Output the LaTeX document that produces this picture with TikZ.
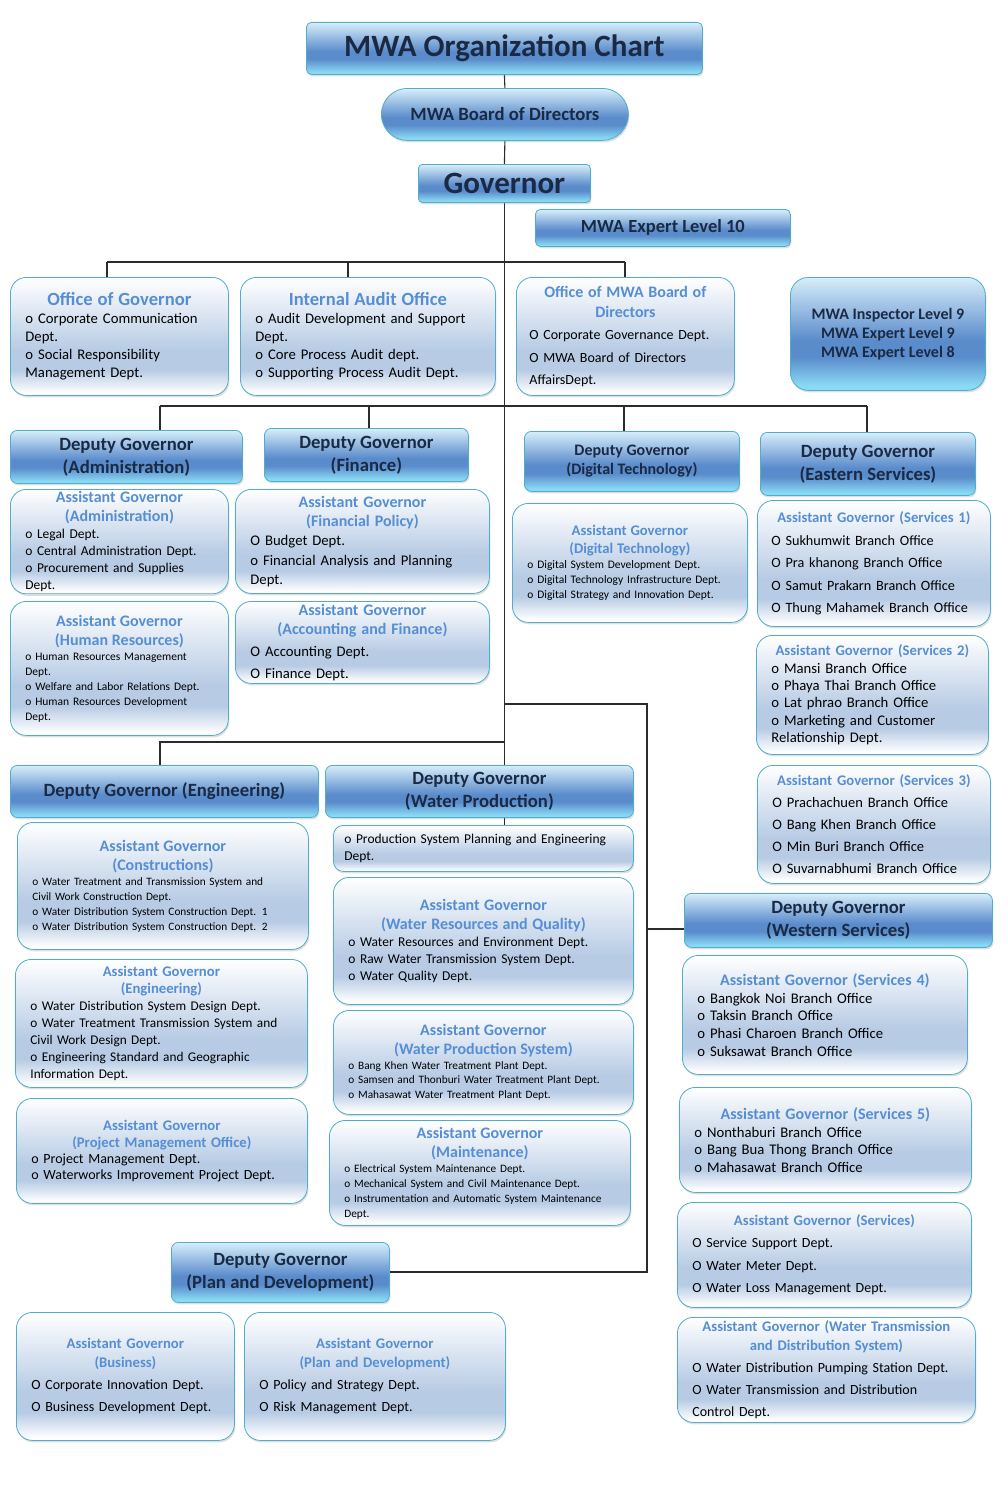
\documentclass[tikz,border=0pt]{standalone}
\usepackage{fontspec}
\setmainfont{Carlito}
\usetikzlibrary{positioning,shadows,backgrounds}
\setlength{\parindent}{0pt}
\hyphenpenalty=10000
\exhyphenpenalty=10000
\definecolor{HdrTop}{HTML}{D7EEFA}
\definecolor{HdrMid}{HTML}{5A8BCB}
\definecolor{HdrBot}{HTML}{8ADAF4}
\definecolor{HdrText}{HTML}{1B2A44}
\definecolor{BoxEdge}{HTML}{4EAECB}
\definecolor{AgMid}{HTML}{B7CBE4}
\definecolor{AgHead}{HTML}{558ED5}
\definecolor{Wire}{HTML}{2B2B2B}
\pgfdeclareverticalshading{hdrshade}{100bp}{color(0bp)=(HdrBot); color(27bp)=(HdrBot); color(40bp)=(HdrMid); color(47bp)=(HdrMid); color(75bp)=(HdrTop); color(100bp)=(HdrTop)}
\pgfdeclareverticalshading{agshade}{100bp}{color(0bp)=(white); color(26bp)=(white); color(36bp)=(AgMid); color(44bp)=(AgMid); color(75bp)=(white); color(100bp)=(white)}
\newcommand{\fsz}[2]{\fontsize{#1}{#2}\selectfont}
\newcommand{\aghd}[3]{{\centering\fsz{#1}{#2}\bfseries\color{AgHead}#3\par}}
\tikzset{
  hdrbox/.style={draw=BoxEdge, line width=0.8pt, shading=hdrshade, rounded corners=7pt, align=center, text=HdrText, inner sep=2pt, anchor=north west, drop shadow={shadow xshift=1pt, shadow yshift=-2pt, opacity=0.25}},
  agbox/.style={draw=BoxEdge, line width=0.8pt, shading=agshade, rounded corners=16pt, align=left, inner xsep=15pt, inner ysep=2pt, anchor=north west, drop shadow={shadow xshift=1pt, shadow yshift=-2pt, opacity=0.25}},
  link/.style={draw=Wire, line width=1.1pt}
}
\begin{document}
\begin{tikzpicture}[x=1pt, y=-1pt]
  \useasboundingbox (0,0) rectangle (1008,1512);

  % top of the chart
  \node[hdrbox, rounded corners=5pt, minimum width=396pt, minimum height=52pt, font=\fsz{31}{36}\bfseries] (title) at (306,22) {MWA Organization Chart};
  \node[hdrbox, rounded corners=26pt, minimum width=247pt, minimum height=52pt, font=\fsz{18.7}{22}\bfseries] (board) at (381,88) {MWA Board of Directors};
  \node[hdrbox, rounded corners=4pt, minimum width=172pt, minimum height=38pt, font=\fsz{31}{36}\bfseries] (gov) at (418,164) {Governor};
  \node[hdrbox, rounded corners=5pt, minimum width=255pt, minimum height=37pt, font=\fsz{18.5}{22}\bfseries] (exp10) at (535,209) {MWA Expert Level 10};

  % offices under the governor
  \node[agbox, minimum width=218pt, minimum height=118pt, text width=188pt, font=\fsz{14.7}{18}] (offgov) at (10,277) {\aghd{18.6}{20}{Office of Governor}
    o Corporate Communication\\Dept.\\o Social Responsibility\\Management Dept.};
  \node[agbox, minimum width=255pt, minimum height=118pt, text width=225pt, font=\fsz{14.7}{18}] (audit) at (240,277) {\aghd{18.6}{20}{Internal Audit Office}
    o Audit Development and Support\\Dept.\\o Core Process Audit dept.\\o Supporting Process Audit Dept.};
  \node[agbox, inner xsep=13pt, minimum width=218pt, minimum height=118pt, text width=192pt, font=\fsz{14}{22.5}] (offbod) at (516,277) {\aghd{16}{20}{Office of MWA Board of\\Directors}
    O Corporate Governance Dept.\\O MWA Board of Directors\\AffairsDept.};
  \node[hdrbox, rounded corners=18pt, minimum width=195pt, minimum height=113pt, font=\fsz{16}{19}\bfseries] (insp) at (790,277) {MWA Inspector Level 9\\MWA Expert Level 9\\MWA Expert Level 8};

  % deputy governors, first row
  \node[hdrbox, minimum width=232pt, minimum height=53pt, font=\fsz{18.7}{23}\bfseries] (dgadm) at (10,430) {Deputy Governor\\(Administration)};
  \node[hdrbox, minimum width=204pt, minimum height=53pt, font=\fsz{18.7}{23}\bfseries] (dgfin) at (264,428) {Deputy Governor\\(Finance)};
  \node[hdrbox, minimum width=215pt, minimum height=60pt, font=\fsz{16}{19}\bfseries] (dgdig) at (524,431) {Deputy Governor\\(Digital Technology)};
  \node[hdrbox, minimum width=215pt, minimum height=63pt, font=\fsz{18.7}{23}\bfseries] (dgeast) at (760,432) {Deputy Governor\\(Eastern Services)};

  \node[agbox, minimum width=218pt, minimum height=104pt, text width=188pt, font=\fsz{13.5}{17}] (agadm) at (10,489) {\aghd{16}{19}{Assistant Governor\\(Administration)}
    o Legal Dept.\\o Central Administration Dept.\\o Procurement and Supplies\\Dept.};
  \node[agbox, minimum width=218pt, minimum height=134pt, text width=188pt, font=\fsz{11.5}{15}] (aghr) at (10,601) {\aghd{16}{19}{Assistant Governor\\(Human Resources)}
    o Human Resources Management\\Dept.\\o Welfare and Labor Relations Dept.\\o Human Resources Development\\Dept.};
  \node[agbox, minimum width=254pt, minimum height=104pt, text width=224pt, font=\fsz{14.7}{19.5}] (agfp) at (235,489) {\aghd{16}{19}{Assistant Governor\\(Financial Policy)}
    O Budget Dept.\\o Financial Analysis and Planning\\Dept.};
  \node[agbox, minimum width=254pt, minimum height=82pt, text width=224pt, font=\fsz{14.7}{22}] (agacc) at (235,601) {\aghd{16}{19}{Assistant Governor\\(Accounting and Finance)}
    O Accounting Dept.\\O Finance Dept.};
  \node[agbox, minimum width=235pt, minimum height=119pt, text width=205pt, font=\fsz{11.5}{15}] (agdig) at (512,503) {\aghd{14.7}{18}{Assistant Governor\\(Digital Technology)}
    o Digital System Development Dept.\\o Digital Technology Infrastructure Dept.\\o Digital Strategy and Innovation Dept.};
  \node[agbox, inner xsep=14pt, minimum width=233pt, minimum height=126pt, text width=205pt, font=\fsz{14.2}{22.5}] (ags1) at (757,500) {\aghd{14.7}{18}{Assistant Governor (Services 1)}
    O Sukhumwit Branch Office\\O Pra khanong Branch Office\\O Samut Prakarn Branch Office\\O Thung Mahamek Branch Office};
  \node[agbox, minimum width=232pt, minimum height=119pt, text width=202pt, font=\fsz{14.7}{17.3}] (ags2) at (756,635) {\aghd{14.7}{18}{Assistant Governor (Services 2)}
    o Mansi Branch Office\\o Phaya Thai Branch Office\\o Lat phrao Branch Office\\o Marketing and Customer\\Relationship Dept.};
  \node[agbox, minimum width=233pt, minimum height=118pt, text width=203pt, font=\fsz{14.5}{22}] (ags3) at (757,765) {\aghd{14.7}{18}{Assistant Governor (Services 3)}
    O Prachachuen Branch Office\\O Bang Khen Branch Office\\O Min Buri Branch Office\\O Suvarnabhumi Branch Office};

  % deputy governors, second row
  \node[hdrbox, minimum width=308pt, minimum height=52pt, font=\fsz{18.7}{23}\bfseries] (dgeng) at (10,765) {Deputy Governor (Engineering)};
  \node[hdrbox, minimum width=308pt, minimum height=52pt, font=\fsz{18.7}{23}\bfseries] (dgwp) at (325,765) {Deputy Governor\\(Water Production)};

  \node[agbox, minimum width=291pt, minimum height=127pt, text width=261pt, font=\fsz{11.3}{15}] (agcon) at (17,822) {\aghd{16}{19}{Assistant Governor\\(Constructions)}
    o Water Treatment and Transmission System and\\Civil Work Construction Dept.\\o Water Distribution System Construction Dept. 1\\o Water Distribution System Construction Dept. 2};
  \node[agbox, minimum width=292pt, minimum height=128pt, text width=262pt, font=\fsz{13.3}{17}] (ageng) at (15,959) {\aghd{14.7}{17}{Assistant Governor\\(Engineering)}
    o Water Distribution System Design Dept.\\o Water Treatment Transmission System and\\Civil Work Design Dept.\\o Engineering Standard and Geographic\\Information Dept.};
  \node[agbox, minimum width=291pt, minimum height=105pt, text width=261pt, font=\fsz{14}{16}] (agpmo) at (16,1098) {\aghd{14.7}{17}{Assistant Governor\\(Project Management Office)}
    o Project Management Dept.\\o Waterworks Improvement Project Dept.};

  \node[agbox, rounded corners=10pt, inner xsep=11pt, minimum width=300pt, minimum height=46pt, text width=278pt, font=\fsz{13.5}{17}] (prodplan) at (333,825) {o Production System Planning and Engineering\\Dept.};
  \node[agbox, minimum width=300pt, minimum height=127pt, text width=270pt, font=\fsz{13.5}{17}] (agwr) at (333,877) {\aghd{16}{19}{Assistant Governor\\(Water Resources and Quality)}
    o Water Resources and Environment Dept.\\o Raw Water Transmission System Dept.\\o Water Quality Dept.};
  \node[agbox, minimum width=300pt, minimum height=104pt, text width=270pt, font=\fsz{11.3}{14.5}] (agwps) at (333,1010) {\aghd{16}{19}{Assistant Governor\\(Water Production System)}
    o Bang Khen Water Treatment Plant Dept.\\o Samsen and Thonburi Water Treatment Plant Dept.\\o Mahasawat Water Treatment Plant Dept.};
  \node[agbox, minimum width=301pt, minimum height=105pt, text width=271pt, font=\fsz{11.3}{15}] (agmnt) at (329,1120) {\aghd{16}{19}{Assistant Governor\\(Maintenance)}
    o Electrical System Maintenance Dept.\\o Mechanical System and Civil Maintenance Dept.\\o Instrumentation and Automatic System Maintenance\\Dept.};

  % western services
  \node[hdrbox, minimum width=308pt, minimum height=54pt, font=\fsz{18.7}{23}\bfseries] (dgwest) at (684,893) {Deputy Governor\\(Western Services)};
  \node[agbox, minimum width=285pt, minimum height=119pt, text width=255pt, font=\fsz{14.7}{17.7}] (ags4) at (682,955) {\aghd{16}{19}{Assistant Governor (Services 4)}
    o Bangkok Noi Branch Office\\o Taksin Branch Office\\o Phasi Charoen Branch Office\\o Suksawat Branch Office};
  \node[agbox, minimum width=292pt, minimum height=105pt, text width=262pt, font=\fsz{14.7}{17.5}] (ags5) at (679,1087) {\aghd{16}{19}{Assistant Governor (Services 5)}
    o Nonthaburi Branch Office\\o Bang Bua Thong Branch Office\\o Mahasawat Branch Office};
  \node[agbox, minimum width=294pt, minimum height=105pt, text width=264pt, font=\fsz{14}{22.5}] (agsvc) at (677,1202) {\aghd{14.7}{18}{Assistant Governor (Services)}
    O Service Support Dept.\\O Water Meter Dept.\\O Water Loss Management Dept.};
  \node[agbox, minimum width=298pt, minimum height=105pt, text width=268pt, font=\fsz{14}{22}] (agwt) at (677,1317) {\aghd{14.7}{19}{Assistant Governor (Water Transmission\\and Distribution System)}
    O Water Distribution Pumping Station Dept.\\O Water Transmission and Distribution\\Control Dept.};

  % plan and development
  \node[hdrbox, minimum width=218pt, minimum height=60pt, font=\fsz{18.7}{23}\bfseries] (dgplan) at (171,1242) {Deputy Governor\\(Plan and Development)};
  \node[agbox, minimum width=218pt, minimum height=128pt, text width=188pt, font=\fsz{14}{22}] (agbus) at (16,1312) {\aghd{14.7}{19}{Assistant Governor\\(Business)}
    O Corporate Innovation Dept.\\O Business Development Dept.};
  \node[agbox, minimum width=261pt, minimum height=128pt, text width=231pt, font=\fsz{14}{22}] (agplan) at (244,1312) {\aghd{14.7}{19}{Assistant Governor\\(Plan and Development)}
    O Policy and Strategy Dept.\\O Risk Management Dept.};

  % connectors
  \coordinate (barA1) at (107,262);
  \coordinate (barA2) at (348,262);
  \coordinate (barA3) at (625,262);
  \coordinate (barB1) at (160,406);
  \coordinate (barB2) at (369,406);
  \coordinate (barB3) at (624,406);
  \coordinate (barB4) at (867,406);
  \coordinate (barC1) at (160,742);
  \coordinate (barC2) at (504,742);
  \coordinate (side1) at (504,704);
  \coordinate (side2) at (647,704);
  \coordinate (side3) at (647,929);
  \coordinate (side4) at (647,1272);
  \begin{scope}[on background layer]
    \draw[link] (title.south) -- (board.north);
    \draw[link] (board.south) -- (gov.north);
    \draw[link] (gov.south) -- (gov.south |- prodplan.north);
    \draw[link] (barA1) -- (barA3);
    \draw[link] (barA1) -- (barA1 |- offgov.north);
    \draw[link] (barA2) -- (barA2 |- audit.north);
    \draw[link] (barA3) -- (barA3 |- offbod.north);
    \draw[link] (barB1) -- (barB4);
    \draw[link] (barB1) -- (barB1 |- dgadm.north);
    \draw[link] (barB2) -- (barB2 |- dgfin.north);
    \draw[link] (barB3) -- (barB3 |- dgdig.north);
    \draw[link] (barB4) -- (barB4 |- dgeast.north);
    \draw[link] (barC2) -- (barC1) -- (barC1 |- dgeng.north);
    \draw[link] (side1) -- (side2) -- (side4) -- (side4 -| dgplan.east);
    \draw[link] (side3) -- (side3 -| dgwest.west);
  \end{scope}
\end{tikzpicture}
\end{document}
